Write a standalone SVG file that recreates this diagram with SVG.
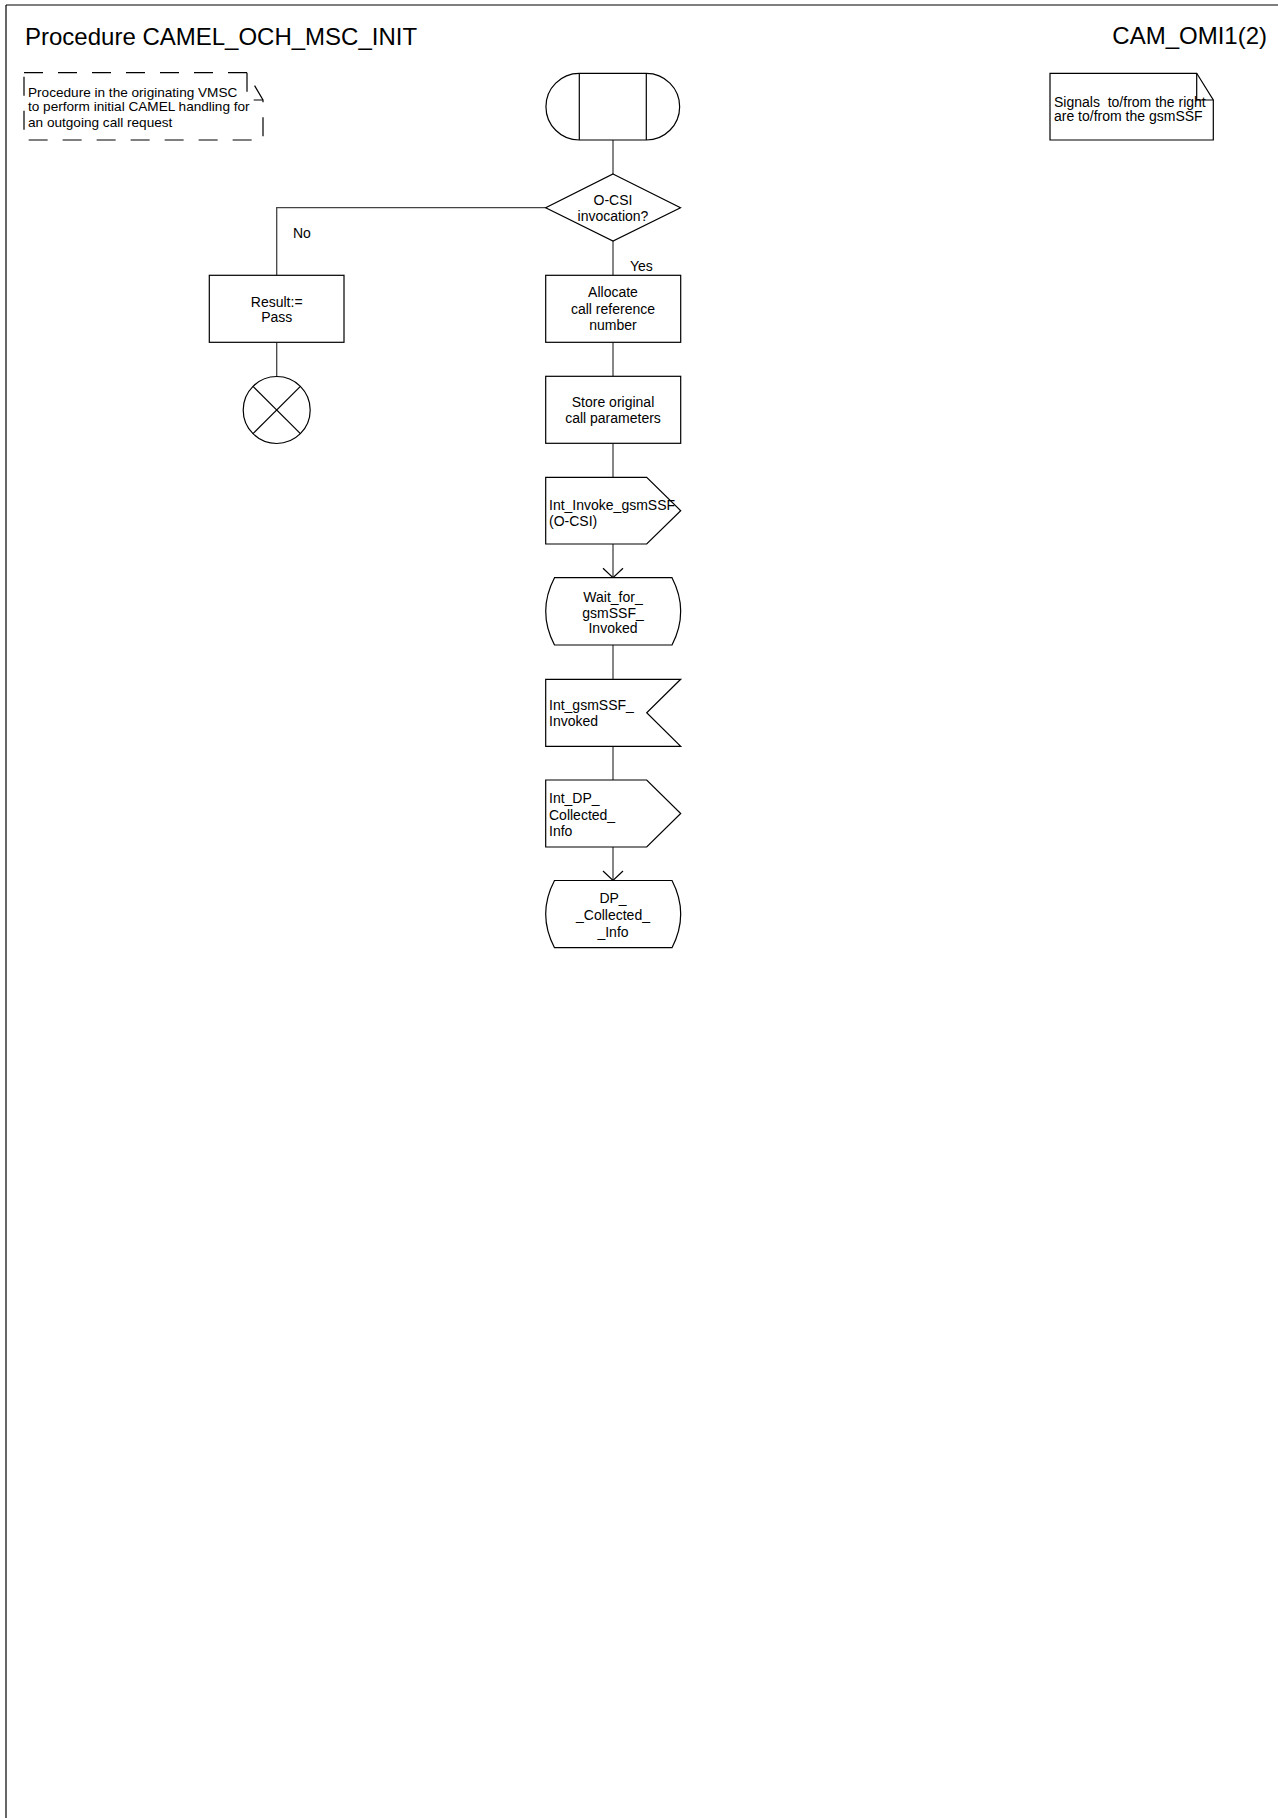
<svg xmlns="http://www.w3.org/2000/svg" width="1278" height="1818" viewBox="0 0 1278 1818">
<defs>
<style>
.t{font-family:"Liberation Sans",Arial,sans-serif;font-size:14px;fill:#000}
.title{font-family:"Liberation Sans",Arial,sans-serif;font-size:24px;fill:#000}
.s{fill:#fff;stroke:#000;stroke-width:1.2}
.c{fill:none;stroke:#444;stroke-width:1.3}
.dash{fill:none;stroke:#000;stroke-width:1.2;stroke-dasharray:19 15}
</style>
<marker id="open" viewBox="-12 -12 24 24" refX="0" refY="0" markerWidth="24" markerHeight="24" markerUnits="userSpaceOnUse" orient="auto">
<path d="M-9.5,-10 L0,0 L-9.5,10" fill="none" stroke="#000" stroke-width="1.2"/>
</marker>
</defs>
<rect width="1278" height="1818" fill="#fff"/>
<g id="frame">
<line x1="6" y1="5" x2="1278" y2="5" stroke="#555" stroke-width="1.6"/>
<line x1="6" y1="5" x2="6" y2="1818" stroke="#000" stroke-width="1.2"/>
<text class="title" x="25" y="45">Procedure CAMEL_OCH_MSC_INIT</text>
<text class="title" x="1267" y="44" text-anchor="end">CAM_OMI1(2)</text>
</g>
<g id="comment">
<path class="dash" d="M24,72.7 H247 L263,100 V140 H24 Z"/>
<path class="dash" d="M247,72.7 V100 H263"/>
<text class="t" x="28" y="96.5" style="font-size:13.6px">Procedure in the originating VMSC</text>
<text class="t" x="28" y="111" style="font-size:13.6px">to perform initial CAMEL handling for</text>
<text class="t" x="28" y="127" style="font-size:13.6px">an outgoing call request</text>
</g>
<g id="note">
<path class="s" d="M1050,73.3 H1196.7 L1213.3,100 V140 H1050 Z"/>
<path d="M1196.7,73.3 V100 H1213.3" fill="none" stroke="#000" stroke-width="1.2"/>
<text class="t" x="1054" y="106.5" xml:space="preserve">Signals  to/from the right</text>
<text class="t" x="1054" y="120.5">are to/from the gsmSSF</text>
</g>
<g id="connectors">
<line class="c" x1="613" y1="140" x2="613" y2="174"/>
<polyline class="c" points="545.7,207.7 276.7,207.7 276.7,275.3"/>
<line class="c" x1="613" y1="241" x2="613" y2="275.3"/>
<line class="c" x1="276.7" y1="342.3" x2="276.7" y2="376.5"/>
<line class="c" x1="613" y1="342.3" x2="613" y2="376.3"/>
<line class="c" x1="613" y1="443.3" x2="613" y2="477.3"/>
<line class="c" x1="613" y1="544" x2="613" y2="577.7" marker-end="url(#open)"/>
<line class="c" x1="613" y1="645" x2="613" y2="679.3"/>
<line class="c" x1="613" y1="746.3" x2="613" y2="780"/>
<line class="c" x1="613" y1="847" x2="613" y2="880.5" marker-end="url(#open)"/>
<text class="t" x="293" y="238">No</text>
<text class="t" x="630" y="271">Yes</text>
</g>
<g id="start">
<path class="s" d="M579.3,73.3 H646.3 A33.35,33.35 0 0 1 646.3,140 H579.3 A33.35,33.35 0 0 1 579.3,73.3 Z"/>
<line x1="579.3" y1="73.3" x2="579.3" y2="140" stroke="#000" stroke-width="1.2"/>
<line x1="646.3" y1="73.3" x2="646.3" y2="140" stroke="#000" stroke-width="1.2"/>
</g>
<g id="decision">
<polygon class="s" points="613,174 680.5,207.7 613,241 545.7,207.7"/>
<text class="t" x="613" y="205" text-anchor="middle">O-CSI</text>
<text class="t" x="613" y="221" text-anchor="middle">invocation?</text>
</g>
<g id="result">
<rect class="s" x="209.3" y="275.3" width="134.7" height="67"/>
<text class="t" x="276.7" y="306.5" text-anchor="middle">Result:=</text>
<text class="t" x="276.7" y="321.5" text-anchor="middle">Pass</text>
</g>
<g id="stop">
<circle class="s" cx="276.7" cy="410" r="33.5"/>
<line x1="253" y1="386.3" x2="300.4" y2="433.7" stroke="#000" stroke-width="1.2"/>
<line x1="300.4" y1="386.3" x2="253" y2="433.7" stroke="#000" stroke-width="1.2"/>
</g>
<g id="allocate">
<rect class="s" x="545.7" y="275.3" width="135" height="67"/>
<text class="t" x="613" y="297.3" text-anchor="middle">Allocate</text>
<text class="t" x="613" y="314.3" text-anchor="middle">call reference</text>
<text class="t" x="613" y="330.3" text-anchor="middle">number</text>
</g>
<g id="store">
<rect class="s" x="545.7" y="376.3" width="135" height="67"/>
<text class="t" x="613" y="407.3" text-anchor="middle">Store original</text>
<text class="t" x="613" y="423.3" text-anchor="middle">call parameters</text>
</g>
<g id="invoke">
<path class="s" d="M545.7,477.3 H646.7 L680.7,510.7 L646.7,544 H545.7 Z"/>
<text class="t" x="549" y="510">Int_Invoke_gsmSSF</text>
<text class="t" x="549" y="525.7">(O-CSI)</text>
</g>
<g id="wait">
<path class="s" d="M554.5,577.7 H672 Q689.4,611.3 672,645 H554.5 Q536.9,611.3 554.5,577.7 Z"/>
<text class="t" x="613" y="601.5" text-anchor="middle">Wait_for_</text>
<text class="t" x="613" y="618" text-anchor="middle">gsmSSF_</text>
<text class="t" x="613" y="633" text-anchor="middle">Invoked</text>
</g>
<g id="invoked">
<path class="s" d="M545.7,679.3 H680.7 L646.7,712.8 L680.7,746.3 H545.7 Z"/>
<text class="t" x="549" y="709.5">Int_gsmSSF_</text>
<text class="t" x="549" y="726">Invoked</text>
</g>
<g id="dpout">
<path class="s" d="M545.7,780 H646.7 L680.7,813.5 L646.7,847 H545.7 Z"/>
<text class="t" x="549" y="803">Int_DP_</text>
<text class="t" x="549" y="820">Collected_</text>
<text class="t" x="549" y="835.7">Info</text>
</g>
<g id="dpstate">
<path class="s" d="M554.5,880.5 H672 Q689.4,914 672,947.7 H554.5 Q536.9,914 554.5,880.5 Z"/>
<text class="t" x="613" y="903" text-anchor="middle">DP_</text>
<text class="t" x="613" y="920" text-anchor="middle">_Collected_</text>
<text class="t" x="613" y="936.7" text-anchor="middle">_Info</text>
</g>
</svg>
